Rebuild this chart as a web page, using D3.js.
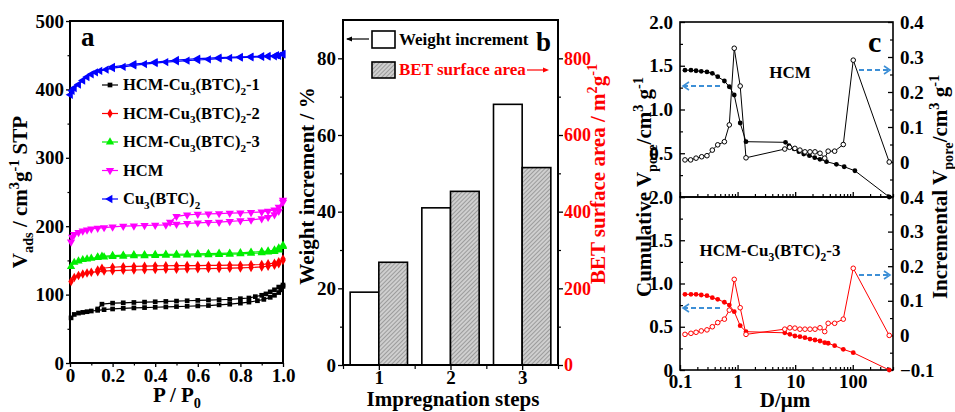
<!DOCTYPE html>
<html>
<head>
<meta charset="utf-8">
<script src="https://cdn.jsdelivr.net/npm/d3@7"></script>
</head>
<body style="margin:0;background:#fff">
<svg id="fig" width="955" height="412"></svg>
<script>
// ---- panel a : N2 isotherms (adsorption + desorption branches)
var s1AdsP = [0.005,0.02,0.04,0.06,0.08,0.1,0.13,0.16,0.2,0.25,0.3,0.35,0.4,0.45,0.5,0.55,0.6,0.65,0.7,0.75,0.8,0.84,0.88,0.91,0.94,0.96,0.98,0.99,1.0];
var s1AdsV = [66,71,73,74,75,76,77,78,79,80,80.5,81,81.5,82,82.5,83,83.5,84,85,86,87.5,89,91,93,96,99,103,107,112];
var s1DesP = [1.0,0.98,0.96,0.94,0.92,0.9,0.87,0.84,0.8,0.75,0.7,0.65,0.6,0.55,0.5,0.45,0.4,0.35,0.3,0.25,0.2,0.15,0.13];
var s1DesV = [114,111,107,104,101,99,97,95,94,93,92.5,92,91.5,91,90.5,90,89.5,89,88.5,88,87.5,86,79];

var s2AdsP = [0.005,0.02,0.04,0.06,0.08,0.1,0.13,0.16,0.2,0.25,0.3,0.35,0.4,0.45,0.5,0.55,0.6,0.65,0.7,0.75,0.8,0.85,0.9,0.93,0.96,0.98,1.0];
var s2AdsV = [119,125,128,130,131.5,132.5,133.5,134.5,135,135.5,136,136.3,136.6,137,137.2,137.5,137.8,138,138.3,138.6,139,139.6,140.5,141.5,143,145,150];
var s2DesP = [1.0,0.98,0.96,0.93,0.9,0.85,0.8,0.75,0.7,0.65,0.6,0.55,0.5,0.45,0.4,0.35,0.3,0.25,0.2,0.15,0.13];
var s2DesV = [152,148,146,145,144,143.5,143,143,142.8,142.6,142.5,142.4,142.3,142.2,142,141.6,141.2,140.8,140,138.5,136];

var s3AdsP = [0.005,0.02,0.04,0.06,0.08,0.1,0.13,0.16,0.2,0.25,0.3,0.35,0.4,0.45,0.5,0.55,0.6,0.65,0.7,0.75,0.8,0.85,0.9,0.93,0.96,0.98,1.0];
var s3AdsV = [141,147,149,151,152,153,154,154.8,155.5,156,156.5,156.8,157,157.3,157.5,157.8,158,158.2,158.5,159,159.5,160.2,161,162,163,165,170];
var s3DesP = [1.0,0.98,0.96,0.93,0.9,0.85,0.8,0.75,0.7,0.65,0.6,0.55,0.5,0.45,0.4,0.35,0.3,0.25,0.2,0.15,0.13];
var s3DesV = [172,168,165,163.5,163,162,161,160.5,160.2,160,159.5,159.3,159,158.8,158.5,158.2,158,157.6,157,156,155];

var hcmAdsP = [0.005,0.01,0.02,0.04,0.06,0.08,0.1,0.13,0.16,0.2,0.25,0.3,0.35,0.4,0.45,0.5,0.55,0.6,0.65,0.7,0.75,0.8,0.85,0.9,0.93,0.96,0.98,1.0];
var hcmAdsV = [177,184,188,191,193,194.5,196,197,198,199,200,200.5,201,201.5,202,203,204,205,205.5,206,207,208,209,211,213,217,222,235];
var hcmDesP = [1.0,0.98,0.96,0.93,0.9,0.85,0.8,0.75,0.7,0.65,0.6,0.55,0.5,0.47];
var hcmDesV = [238,228,224,222,221,220,219.5,219,218.5,218,217.5,216.5,214.5,206];

var cuAdsP = [0.002,0.01,0.02,0.04,0.06,0.08,0.1,0.12,0.14,0.17,0.2,0.25,0.3,0.35,0.4,0.45,0.5,0.55,0.6,0.65,0.7,0.75,0.8,0.85,0.9,0.93,0.96,0.98,1.0];
var cuAdsV = [392,398,402,407,413,418,422,425,427,429,431,433,435,437,438.5,440,441,442,443,444,445,446,446.5,447,447.5,448,448.5,449,451];
var cuDesP = [1.0,0.97,0.93,0.9,0.85,0.8,0.7,0.6,0.5,0.4,0.3,0.2];
var cuDesV = [452,450,449,448.5,448,447.5,446.5,445,443,440,437,433];

// ---- panel b : bars
var steps = [1, 2, 3];
var weightIncrement = [19, 41, 68];
var betSurface = [268, 453, 515];

// ---- panel c : pore size distributions
var hcmCumD = [0.122,0.155,0.19,0.234,0.294,0.364,0.452,0.59,0.718,0.875,1.11,1.4,6.8,7.8,9.6,11.6,14.1,17.7,21.9,26.9,35,52,71,109,430];
var hcmCumV = [1.45,1.45,1.443,1.436,1.43,1.413,1.375,1.326,1.26,1.166,0.846,0.632,0.625,0.586,0.549,0.518,0.491,0.472,0.449,0.431,0.404,0.374,0.346,0.3,0];
var hcmIncD = [0.122,0.153,0.19,0.238,0.294,0.364,0.452,0.59,0.718,0.875,1.11,1.4,6.6,8.0,9.9,12.1,14.8,18.1,22.1,27,32.6,37.4,48.5,68.5,102,430];
var hcmIncV = [0.006,0.006,0.011,0.015,0.018,0.034,0.049,0.058,0.106,0.325,0.217,0.012,0.037,0.042,0.039,0.034,0.029,0.029,0.029,0.025,0.011,0.031,0.031,0.05,0.291,0];

var cu3CumD = [0.122,0.155,0.19,0.234,0.294,0.364,0.452,0.59,0.718,0.875,1.11,1.4,6.6,8.1,9.9,12.1,14.8,18.1,22.1,27,32.6,37.4,48.5,68.5,102,430];
var cu3CumV = [0.875,0.875,0.875,0.867,0.859,0.836,0.817,0.783,0.751,0.674,0.512,0.443,0.43,0.413,0.393,0.385,0.374,0.358,0.347,0.335,0.316,0.309,0.281,0.239,0.2,0];
var cu3IncD = [0.122,0.155,0.19,0.234,0.294,0.364,0.452,0.59,0.718,0.875,1.11,1.4,6.6,8.1,9.9,12.1,14.8,18.1,22.1,27,32.6,37.4,48.5,68.5,102,430];
var cu3IncV = [0.003,0.006,0.009,0.013,0.016,0.025,0.037,0.047,0.073,0.162,0.08,0.003,0.018,0.022,0.021,0.018,0.018,0.018,0.018,0.022,0.011,0.035,0.035,0.047,0.194,0];

var FONT = "'Liberation Serif', serif";
var svg = d3.select("#fig").attr("font-family", FONT).attr("font-weight", "bold");

function zip(xs, ys) {
    return xs.map(function (x, i) { return [x, ys[i]]; });
}

// text with sub/superscripts: parts = [[text, "sub"|"sup"|null], ...]
function rich(t, parts, fs) {
    var prev = 0;
    t.attr("font-family", FONT).attr("font-weight", "bold");
    parts.forEach(function (p) {
        var shift = p[1] === "sub" ? fs * 0.3 : (p[1] === "sup" ? -fs * 0.4 : 0);
        t.append("tspan")
            .attr("dy", shift - prev)
            .attr("font-size", p[1] ? fs * 0.68 : fs)
            .text(p[0]);
        prev = shift;
    });
    return t;
}

function label(g, x, y, txt, fs) {
    return g.append("text").attr("x", x).attr("y", y)
        .attr("font-family", FONT).attr("font-weight", "bold").attr("font-size", fs).text(txt);
}

function styleAxis(g, fs, color) {
    g.attr("font-family", FONT);
    g.select(".domain").remove();
    g.selectAll(".tick line").attr("stroke", "#000").attr("stroke-width", 1.3);
    g.selectAll(".tick text")
        .attr("font-family", FONT).attr("font-weight", "bold")
        .attr("font-size", fs)
        .attr("fill", color || "#000");
}

function minorAxis(g, axis) {
    g.call(axis);
    g.select(".domain").remove();
    g.selectAll(".tick text").remove();
    g.selectAll(".tick line").attr("stroke", "#000").attr("stroke-width", 1.2);
}

function fmt1(d) { return Math.abs(d) < 1e-9 ? "0" : d3.format(".1f")(d); }

/* ================= panel a ================= */
var xa = d3.scaleLinear().domain([0, 1]).range([70, 283]);
var ya = d3.scaleLinear().domain([0, 500]).range([363, 21]);

var ga = svg.append("g");
ga.append("g").attr("transform", "translate(70,0)")
    .call(d3.axisLeft(ya).tickValues([0,100,200,300,400,500]).tickSize(4).tickPadding(2).tickFormat(d3.format("d")))
    .call(styleAxis, 19);
ga.append("g").attr("transform", "translate(70,0)")
    .call(minorAxis, d3.axisLeft(ya).tickValues([50,150,250,350,450]).tickSize(2.5));
ga.append("g").attr("transform", "translate(0,363)")
    .call(d3.axisBottom(xa).tickValues([0,0.2,0.4,0.6,0.8,1.0]).tickSize(4).tickPadding(2).tickFormat(fmt1))
    .call(styleAxis, 19);
ga.append("g").attr("transform", "translate(0,363)")
    .call(minorAxis, d3.axisBottom(xa).tickValues([0.1,0.3,0.5,0.7,0.9]).tickSize(2.5));
ga.append("rect").attr("x", 70).attr("y", 21).attr("width", 213).attr("height", 342)
    .attr("fill", "none").attr("stroke", "#000").attr("stroke-width", 2);

var isoSeries = [
    { name: [["HCM-Cu", null], ["3", "sub"], ["(BTC)", null], ["2", "sub"], ["-1", null]], color: "#000000", sym: d3.symbolSquare, rot: 0, size: 22, ads: zip(s1AdsP, s1AdsV), des: zip(s1DesP, s1DesV) },
    { name: [["HCM-Cu", null], ["3", "sub"], ["(BTC)", null], ["2", "sub"], ["-2", null]], color: "#ff0000", sym: d3.symbolDiamond, rot: 0, size: 26, ads: zip(s2AdsP, s2AdsV), des: zip(s2DesP, s2DesV) },
    { name: [["HCM-Cu", null], ["3", "sub"], ["(BTC)", null], ["2", "sub"], ["-3", null]], color: "#00ee00", sym: d3.symbolTriangle, rot: 0, size: 30, ads: zip(s3AdsP, s3AdsV), des: zip(s3DesP, s3DesV) },
    { name: [["HCM", null]], color: "#ff00ff", sym: d3.symbolTriangle, rot: 180, size: 30, ads: zip(hcmAdsP, hcmAdsV), des: zip(hcmDesP, hcmDesV) },
    { name: [["Cu", null], ["3", "sub"], ["(BTC)", null], ["2", "sub"]], color: "#0000ff", sym: d3.symbolTriangle, rot: -90, size: 30, ads: zip(cuAdsP, cuAdsV), des: zip(cuDesP, cuDesV) }
];

var lineA = d3.line().x(function (d) { return xa(d[0]); }).y(function (d) { return ya(d[1]); });

isoSeries.forEach(function (s, i) {
    var g = ga.append("g");
    [s.ads, s.des].forEach(function (branch) {
        g.append("path").datum(branch)
            .attr("fill", "none").attr("stroke", s.color).attr("stroke-width", 1.2)
            .attr("d", lineA);
        g.selectAll(null).data(branch).enter().append("path")
            .attr("d", d3.symbol().type(s.sym).size(s.size))
            .attr("fill", s.color)
            .attr("transform", function (d) { return "translate(" + xa(d[0]) + "," + ya(d[1]) + ") rotate(" + s.rot + ")"; });
    });

    // legend entry
    var ly = 85 + i * 28.5;
    ga.append("line").attr("x1", 102).attr("x2", 118).attr("y1", ly).attr("y2", ly)
        .attr("stroke", s.color).attr("stroke-width", 1.2);
    ga.append("path").attr("d", d3.symbol().type(s.sym).size(s.size))
        .attr("fill", s.color)
        .attr("transform", "translate(110," + ly + ") rotate(" + s.rot + ")");
    rich(ga.append("text").attr("x", 123).attr("y", ly + 5), s.name, 16.5);
});

label(ga, 81, 46, "a", 27);
rich(ga.append("text").attr("transform", "translate(27,192) rotate(-90)").attr("text-anchor", "middle"),
    [["V", null], ["ads", "sub"], [" / cm", null], ["3", "sup"], ["g", null], ["-1", "sup"], [" STP", null]], 21);
rich(ga.append("text").attr("x", 177).attr("y", 402).attr("text-anchor", "middle"),
    [["P / P", null], ["0", "sub"]], 21);

/* ================= panel b ================= */
var xb = d3.scaleLinear().domain([0.5, 3.5]).range([343, 558]);
var yb = d3.scaleLinear().domain([0, 90]).range([365, 20]);
var yb2 = d3.scaleLinear().domain([0, 900]).range([365, 20]);

var gb = svg.append("g");
var defs = svg.append("defs");
var pat = defs.append("pattern").attr("id", "hatch")
    .attr("patternUnits", "userSpaceOnUse").attr("width", 3).attr("height", 3)
    .attr("patternTransform", "rotate(45)");
pat.append("rect").attr("width", 3).attr("height", 3).attr("fill", "#cfcfcf");
pat.append("line").attr("x1", 0).attr("y1", 0).attr("x2", 0).attr("y2", 3)
    .attr("stroke", "#7a7a7a").attr("stroke-width", 1.2);

gb.selectAll(".wbar").data(steps).enter().append("rect")
    .attr("x", function (d) { return xb(d - 0.4); })
    .attr("y", function (d, i) { return yb(weightIncrement[i]); })
    .attr("width", function (d) { return xb(d) - xb(d - 0.4); })
    .attr("height", function (d, i) { return yb(0) - yb(weightIncrement[i]); })
    .attr("fill", "#fff").attr("stroke", "#000").attr("stroke-width", 1.6);
gb.selectAll(".gbar").data(steps).enter().append("rect")
    .attr("x", function (d) { return xb(d); })
    .attr("y", function (d, i) { return yb2(betSurface[i]); })
    .attr("width", function (d) { return xb(d + 0.4) - xb(d); })
    .attr("height", function (d, i) { return yb2(0) - yb2(betSurface[i]); })
    .attr("fill", "url(#hatch)").attr("stroke", "#000").attr("stroke-width", 1.6);

gb.append("g").attr("transform", "translate(343,0)")
    .call(d3.axisLeft(yb).tickValues([0,20,40,60,80]).tickSize(5).tickPadding(2))
    .call(styleAxis, 19);
gb.append("g").attr("transform", "translate(343,0)")
    .call(minorAxis, d3.axisLeft(yb).tickValues([10,30,50,70]).tickSize(3));
gb.append("g").attr("transform", "translate(558,0)")
    .call(d3.axisRight(yb2).tickValues([0,200,400,600,800]).tickSize(5).tickPadding(1))
    .call(styleAxis, 18, "#ff0000");
gb.append("g").attr("transform", "translate(558,0)")
    .call(minorAxis, d3.axisRight(yb2).tickValues([100,300,500,700]).tickSize(3));
gb.append("g").attr("transform", "translate(0,365)")
    .call(d3.axisBottom(xb).tickValues(steps).tickSize(5).tickPadding(1).tickFormat(d3.format("d")))
    .call(styleAxis, 19);
gb.append("g").attr("transform", "translate(0,365)")
    .call(minorAxis, d3.axisBottom(xb).tickValues([0.5,1.5,2.5,3.5]).tickSize(4));
gb.append("rect").attr("x", 343).attr("y", 20).attr("width", 215).attr("height", 345)
    .attr("fill", "none").attr("stroke", "#000").attr("stroke-width", 2);

// legend
gb.append("rect").attr("x", 372).attr("y", 31).attr("width", 23).attr("height", 17)
    .attr("fill", "#fff").attr("stroke", "#000").attr("stroke-width", 1.6);
label(gb, 399, 45, "Weight increment", 17);
gb.append("rect").attr("x", 372).attr("y", 62).attr("width", 23).attr("height", 16)
    .attr("fill", "url(#hatch)").attr("stroke", "#000").attr("stroke-width", 1.6);
label(gb, 399, 75, "BET surface area", 17).attr("fill", "#ff0000");
gb.append("line").attr("x1", 369).attr("x2", 347).attr("y1", 39).attr("y2", 39).attr("stroke", "#000").attr("stroke-width", 1.2);
gb.append("path").attr("d", "M346,39 L352,36.5 L352,41.5 Z").attr("fill", "#000");
gb.append("line").attr("x1", 527).attr("x2", 546).attr("y1", 70).attr("y2", 70).attr("stroke", "#ff0000").attr("stroke-width", 1.2);
gb.append("path").attr("d", "M549,70 L543,67.5 L543,72.5 Z").attr("fill", "#ff0000");

label(gb, 536, 51, "b", 27);
label(gb, 0, 0, "Weight increment / %", 21)
    .attr("transform", "translate(314,186) rotate(-90)").attr("text-anchor", "middle");
rich(gb.append("text").attr("transform", "translate(605,174) rotate(-90)").attr("text-anchor", "middle").attr("fill", "#ff0000"),
    [["BET surface area / m", null], ["2", "sup"], ["g", null], ["-1", "sup"]], 21);
label(gb, 453, 406, "Impregnation steps", 21).attr("text-anchor", "middle");

/* ================= panel c ================= */
var xc = d3.scaleLog().domain([0.1, 500]).range([680, 893]);
var panelsC = [
    { top: 22, bottom: 197, cumD: hcmCumD, cumV: hcmCumV, incD: hcmIncD, incV: hcmIncV, color: "#000000",
      leftTicks: [0.5, 1.0, 1.5, 2.0], rightTicks: [0, 0.1, 0.2, 0.3, 0.4],
      label: [["HCM", null]], lx: 790, ly: 78, arrL: 86, arrR: 70 },
    { top: 197, bottom: 370, cumD: cu3CumD, cumV: cu3CumV, incD: cu3IncD, incV: cu3IncV, color: "#ff0000",
      leftTicks: [0, 0.5, 1.0, 1.5, 2.0], rightTicks: [-0.1, 0, 0.1, 0.2, 0.3, 0.4],
      label: [["HCM-Cu", null], ["3", "sub"], ["(BTC)", null], ["2", "sub"], ["-3", null]], lx: 770, ly: 256, arrL: 308, arrR: 275 }
];

var gc = svg.append("g");
var decTicks = [];
[0.1, 1, 10, 100].forEach(function (b) {
    for (var k = 2; k <= 9; k++) { if (b * k <= 500) decTicks.push(b * k); }
});

panelsC.forEach(function (p) {
    var yl = d3.scaleLinear().domain([0, 2]).range([p.bottom, p.top]);
    var yr = d3.scaleLinear().domain([-0.1, 0.4]).range([p.bottom, p.top]);

    gc.append("g").attr("transform", "translate(680,0)")
        .call(d3.axisRight(yl).tickValues([0, 0.5, 1, 1.5, 2]).tickSize(5).tickFormat(""))
        .call(styleAxis, 18);
    gc.append("g").attr("transform", "translate(680,0)")
        .call(minorAxis, d3.axisRight(yl).tickValues([0.25, 0.75, 1.25, 1.75]).tickSize(3));
    gc.append("g").attr("transform", "translate(680,0)")
        .call(d3.axisLeft(yl).tickValues(p.leftTicks).tickSize(0).tickPadding(7).tickFormat(fmt1))
        .call(styleAxis, 19);
    gc.append("g").attr("transform", "translate(893,0)")
        .call(d3.axisLeft(yr).tickValues([-0.1, 0, 0.1, 0.2, 0.3, 0.4]).tickSize(5).tickFormat(""))
        .call(styleAxis, 18);
    gc.append("g").attr("transform", "translate(893,0)")
        .call(minorAxis, d3.axisLeft(yr).tickValues([-0.05, 0.05, 0.15, 0.25, 0.35]).tickSize(3));
    gc.append("g").attr("transform", "translate(893,0)")
        .call(d3.axisRight(yr).tickValues(p.rightTicks).tickSize(0).tickPadding(7).tickFormat(fmt1))
        .call(styleAxis, 19);
    gc.append("g").attr("transform", "translate(0," + p.bottom + ")")
        .call(d3.axisTop(xc).tickValues([0.1, 1, 10, 100]).tickSize(5).tickFormat(""))
        .call(styleAxis, 18);
    gc.append("g").attr("transform", "translate(0," + p.bottom + ")")
        .call(minorAxis, d3.axisTop(xc).tickValues(decTicks).tickSize(3));
    gc.append("rect").attr("x", 680).attr("y", p.top).attr("width", 213).attr("height", p.bottom - p.top)
        .attr("fill", "none").attr("stroke", "#000").attr("stroke-width", 1.6);

    var cum = zip(p.cumD, p.cumV);
    var inc = zip(p.incD, p.incV);
    gc.append("path").datum(cum).attr("fill", "none").attr("stroke", p.color).attr("stroke-width", 1)
        .attr("d", d3.line().x(function (d) { return xc(d[0]); }).y(function (d) { return yl(d[1]); }));
    gc.append("path").datum(inc).attr("fill", "none").attr("stroke", p.color).attr("stroke-width", 1)
        .attr("d", d3.line().x(function (d) { return xc(d[0]); }).y(function (d) { return yr(d[1]); }));
    gc.selectAll(null).data(cum).enter().append("circle")
        .attr("cx", function (d) { return xc(d[0]); }).attr("cy", function (d) { return yl(d[1]); })
        .attr("r", 2.4).attr("fill", p.color);
    gc.selectAll(null).data(inc).enter().append("circle")
        .attr("cx", function (d) { return xc(d[0]); }).attr("cy", function (d) { return yr(d[1]); })
        .attr("r", 2.3).attr("fill", "#fff").attr("stroke", p.color).attr("stroke-width", 1);

    rich(gc.append("text").attr("x", p.lx).attr("y", p.ly).attr("text-anchor", "middle"), p.label, 17);

    // dashed blue arrows pointing to the relevant axis
    gc.append("line").attr("x1", 720).attr("x2", 684).attr("y1", p.arrL).attr("y2", p.arrL)
        .attr("stroke", "#3d8fd6").attr("stroke-width", 1.8).attr("stroke-dasharray", "5,3");
    gc.append("path").attr("d", "M689," + (p.arrL - 4) + " L683," + p.arrL + " L689," + (p.arrL + 4))
        .attr("fill", "none").attr("stroke", "#3d8fd6").attr("stroke-width", 1.6);
    gc.append("line").attr("x1", 859).attr("x2", 888).attr("y1", p.arrR).attr("y2", p.arrR)
        .attr("stroke", "#3d8fd6").attr("stroke-width", 1.8).attr("stroke-dasharray", "5,3");
    gc.append("path").attr("d", "M884," + (p.arrR - 4) + " L890," + p.arrR + " L884," + (p.arrR + 4))
        .attr("fill", "none").attr("stroke", "#3d8fd6").attr("stroke-width", 1.6);
});

gc.append("g").attr("transform", "translate(0,370)")
    .call(d3.axisBottom(xc).tickValues([0.1, 1, 10, 100]).tickSize(0).tickPadding(5).tickFormat(function (d) { return d < 1 ? "0.1" : d3.format("d")(d); }))
    .call(styleAxis, 19);

label(gc, 868, 52, "c", 30);
rich(gc.append("text").attr("transform", "translate(651,187) rotate(-90)").attr("text-anchor", "middle"),
    [["Cumulative V", null], ["pore", "sub"], ["/cm", null], ["3", "sup"], [" g", null], ["-1", "sup"]], 21);
rich(gc.append("text").attr("transform", "translate(947,187) rotate(-90)").attr("text-anchor", "middle"),
    [["Incremental V", null], ["pore", "sub"], ["/cm", null], ["3", "sup"], [" g", null], ["-1", "sup"]], 21);
rich(gc.append("text").attr("x", 785).attr("y", 407).attr("text-anchor", "middle"),
    [["D/\u03bcm", null]], 21);
</script>
</body>
</html>
